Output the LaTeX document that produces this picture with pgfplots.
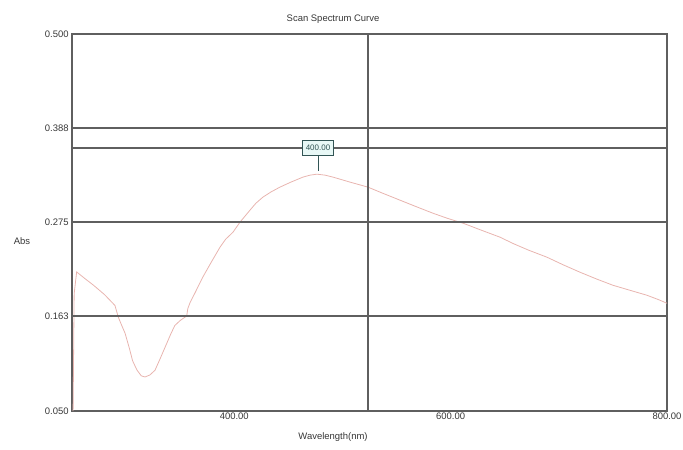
\documentclass[border=0pt]{standalone}
\usepackage{fontspec}
\setmainfont{Liberation Sans}
\usepackage{pgfplots}
\pgfplotsset{compat=1.18}
\definecolor{gridc}{RGB}{95,95,95}
\definecolor{curvec}{RGB}{232,180,175}
\definecolor{boxfill}{RGB}{232,248,246}
\definecolor{boxdraw}{RGB}{50,85,85}
\definecolor{txt}{RGB}{55,55,55}
\begin{document}
\fontsize{9.5}{11}\selectfont
\begin{tikzpicture}
\useasboundingbox (0,0) rectangle (683bp,450bp);
\begin{axis}[
  at={(72bp,39bp)}, anchor=south west,
  scale only axis, width=595bp, height=377bp,
  xmin=250, xmax=800, ymin=0.05, ymax=0.5,
  xtick={400,600,800}, xticklabels={400.00,600.00,800.00},
  ytick={0.05,0.163,0.275,0.388,0.5},
  yticklabels={0.050,0.163,0.275,0.388,0.500},
  axis line style={gridc, line width=1.3pt},
  major tick length=0pt,
  tick label style={font=\fontsize{9.5}{11}\selectfont, text=txt},
  xticklabel style={yshift=1bp},
  /pgf/number format/assume math mode=true,
  clip=false,
]
\addplot[curvec, line width=0.8pt] coordinates {
(251,0.050) (252,0.190) (254.3,0.216) (262,0.208) (270,0.200) (280,0.189)
(289.7,0.176) (292.8,0.162) (296,0.152) (299,0.143) (303,0.125) (306,0.110)
(310,0.099) (314,0.092) (317.5,0.0906) (322,0.093) (326.7,0.0986) (331,0.111)
(336,0.126) (341,0.141) (345,0.152) (350,0.158) (354.4,0.162) (356,0.163)
(357,0.172) (359,0.179) (363.7,0.191) (371,0.210) (378,0.226) (386.8,0.2455)
(392,0.255) (398.8,0.2634) (405.3,0.2754) (414.5,0.2897) (420,0.2980)
(426.5,0.3053) (434,0.3115) (442.2,0.3172) (452,0.3230) (463.5,0.3292)
(470,0.3315) (476.4,0.3327) (484,0.3315) (491.2,0.3292) (507,0.3232)
(523.6,0.3172) (538,0.3095) (553.1,0.3017) (568,0.2940) (583.6,0.2861)
(597,0.2800) (611.4,0.2742) (628,0.2660) (645.6,0.2575) (657.6,0.2500)
(672,0.2420) (689,0.2336) (704,0.2245) (719.5,0.2157) (735,0.2075)
(750,0.2001) (766,0.1940) (781.4,0.1882) (792,0.1830) (800,0.1786)
};
\addplot[gridc, line width=1.4pt] coordinates {(250,0.1636) (800,0.1636)};
\addplot[gridc, line width=1.4pt] coordinates {(250,0.2756) (800,0.2756)};
\addplot[gridc, line width=1.4pt] coordinates {(250,0.388) (800,0.388)};
\addplot[gridc, line width=1.3pt] coordinates {(523.6,0.05) (523.6,0.5)};
\addplot[gridc, line width=1.3pt] coordinates {(250,0.364) (800,0.364)};
\addplot[boxdraw, line width=0.9pt] coordinates {(477.4,0.356) (477.4,0.336)};
\node[draw=boxdraw, fill=boxfill, line width=0.8pt, inner xsep=3bp, inner ysep=0pt,
  minimum height=15bp, font=\fontsize{8}{9}\selectfont, text=boxdraw]
  at (axis cs:477.4,0.364) {400.00};
\node[text=txt] at (rel axis cs:0.4387,1.04) {Scan Spectrum Curve};
\node[text=txt] at (rel axis cs:0.4387,-0.069) {Wavelength(nm)};
\node[text=txt] at (rel axis cs:-0.084,0.451) {Abs};
\end{axis}
\end{tikzpicture}
\end{document}
